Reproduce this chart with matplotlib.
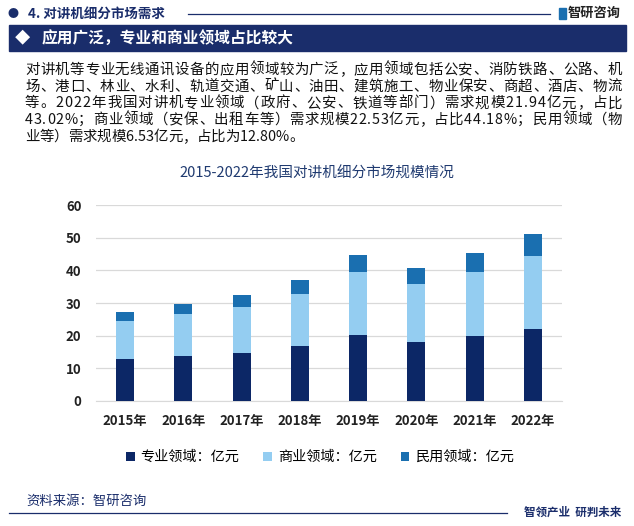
import numpy as np
import matplotlib.pyplot as plt
from matplotlib.patches import Rectangle

plt.rcParams['font.family'] = ['Noto Sans CJK SC', 'DejaVu Sans']

# 数据（从图中读取，单位：亿元）
years = ['2015年', '2016年', '2017年', '2018年', '2019年', '2020年', '2021年', '2022年']
zhuanye = [12.9, 13.8, 14.7, 16.9, 20.2, 18.1, 19.9, 21.94]   # 专业领域
shangye = [11.6, 12.8, 14.1, 15.9, 19.4, 17.7, 19.7, 22.53]   # 商业领域
minyong = [2.7, 3.1, 3.6, 4.2, 5.1, 4.9, 5.7, 6.53]           # 民用领域
series_names = ['专业领域：亿元', '商业领域：亿元', '民用领域：亿元']
colors = ['#0c2766', '#94cdf1', '#1a6fb0']

lines = [
    '对讲机等专业无线通讯设备的应用领域较为广泛，应用领域包括公安、消防铁路、公路、机',
    '场、港口、林业、水利、轨道交通、矿山、油田、建筑施工、物业保安、商超、酒店、物流',
    '等。2022年我国对讲机专业领域（政府、公安、铁道等部门）需求规模21.94亿元，占比',
    '43.02%；商业领域（安保、出租车等）需求规模22.53亿元，占比44.18%；民用领域（物',
    '业等）需求规模6.53亿元，占比为12.80%。',
]

W, H = 634, 526
fig = plt.figure(figsize=(W / 100, H / 100), dpi=100)
renderer = fig.canvas.get_renderer()

def fx(x):
    return x / W

def fy(y):
    return 1 - y / H

navy = '#1a2d6b'

# 顶部标题栏
fig.text(fx(13), fy(14), '●', fontsize=8, color=navy, va='center', ha='center')
fig.text(fx(28), fy(14), '4. 对讲机细分市场需求', fontsize=9.7, fontweight='bold',
         color=navy, va='center', ha='left')
fig.add_artist(plt.Line2D([fx(188), fx(550)], [fy(14), fy(14)], color=navy, lw=0.9))
fig.add_artist(Rectangle((fx(559), fy(19)), fx(7), 11 / H, color='#1a6fb0'))
fig.text(fx(568), fy(13), '智研咨询', fontsize=9.5, fontweight='bold',
         color='#222222', va='center', ha='left')

fig.add_artist(Rectangle((fx(9), fy(51)), fx(617), 26 / H, color=navy))
fig.text(fx(15), fy(38), '◆', fontsize=11, color='white', va='center', ha='left')
fig.text(fx(42), fy(38), '应用广泛，专业和商业领域占比较大', fontsize=11.3, fontweight='bold',
         color='white', va='center', ha='left')

# 段落文字（两端对齐：逐字放置）
x0, x1 = 25, 622
for i, t in enumerate(lines):
    y = fy(70 + i * 16.7)
    widths = []
    for ch in t:
        tmp = fig.text(0, 0, ch, fontsize=10.4)
        widths.append(tmp.get_window_extent(renderer).width)
        tmp.remove()
    if i < len(lines) - 1:
        extra = (x1 - x0 - sum(widths)) / (len(t) - 1)
    else:
        extra = 0
    xx = x0
    for ch, w in zip(t, widths):
        fig.text(fx(xx), y, ch, fontsize=10.4, color='#111111', va='center', ha='left')
        xx += w + extra

fig.text(fx(317), fy(174), '2015-2022年我国对讲机细分市场规模情况', fontsize=10.5,
         color='#1f3a70', va='center', ha='center')

# 图表
ax = fig.add_axes([fx(96), fy(401), fx(466), 196 / H])
x = np.arange(len(years))
bw = 0.31
b1 = ax.bar(x, zhuanye, bw, color=colors[0], label=series_names[0], zorder=3)
b2 = ax.bar(x, shangye, bw, bottom=zhuanye, color=colors[1], label=series_names[1], zorder=3)
bottom3 = np.array(zhuanye) + np.array(shangye)
b3 = ax.bar(x, minyong, bw, bottom=bottom3, color=colors[2], label=series_names[2], zorder=3)

ax.set_xlim(-0.5, len(years) - 0.5)
ax.set_ylim(0, 60)
ax.set_yticks(range(0, 61, 10))
ax.yaxis.grid(True, color='#d9d9d9', lw=0.9, zorder=0)
ax.set_xticks(x)
ax.set_xticklabels(years, fontsize=9.5, fontweight='bold', color='#222222')
ax.tick_params(axis='y', labelsize=9.5, colors='#222222', length=0, pad=10.5)
ax.tick_params(axis='x', length=0, pad=9)
for lab in ax.get_yticklabels():
    lab.set_fontweight('bold')
for s in ax.spines.values():
    s.set_visible(False)
ax.spines['bottom'].set_visible(True)
ax.spines['bottom'].set_color('#d9d9d9')

fig.legend(handles=[b1, b2, b3], labels=series_names, loc='center',
           bbox_to_anchor=(fx(320), fy(457)), ncol=3, frameon=False,
           fontsize=10.2, handlelength=0.6, handleheight=0.6, handletextpad=0.4,
           columnspacing=1.7)

# 底部
fig.text(fx(26), fy(501), '资料来源：智研咨询', fontsize=9.6, color=navy,
         va='center', ha='left')
fig.add_artist(plt.Line2D([fx(9), fx(507)], [fy(513), fy(513)], color=navy, lw=0.9))
fig.text(fx(524), fy(512), '智领产业  研判未来', fontsize=8.3, fontweight='bold',
         color=navy, va='center', ha='left')

fig.savefig('out.png', dpi=100)
